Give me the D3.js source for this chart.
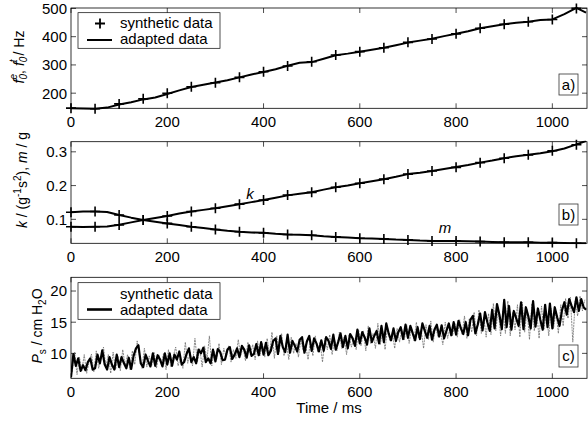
<!DOCTYPE html>
<html>
<head>
<meta charset="utf-8">
<script src="https://cdn.jsdelivr.net/npm/d3@7"></script>
<style>
  body { margin: 0; background: #fff; }
  svg { display: block; font-family: "Liberation Sans", Arial, sans-serif; }
</style>
</head>
<body>
<svg id="chart" width="588" height="423"></svg>
<script>
// ---- data ----
const timeTicks = [0, 200, 400, 600, 800, 1000];
const markerTimes = [0, 50, 100, 150, 200, 250, 300, 350, 400, 450, 500, 550, 600, 650, 700, 750, 800, 850, 900, 950, 1000, 1050];
const lineTimes = [0, 25, 50, 75, 100, 125, 150, 175, 200, 225, 250, 275, 300, 325, 350, 375, 400, 425, 450, 475, 500,
  525, 550, 575, 600, 625, 650, 675, 700, 725, 750, 775, 800, 825, 850, 875, 900, 925, 950, 975, 1000, 1025, 1050, 1070];

// panel a: f0 (Hz)
const f0Synthetic = [147, 145, 162, 180, 200, 223, 237, 256, 276, 296, 311, 335, 347, 361, 380, 392, 410, 430, 444, 453, 461, 500];
const f0Adapted = [147, 146, 145, 149, 160, 168, 178, 185, 197, 210, 222, 230, 238, 246, 256, 266, 275, 285, 297, 308, 310,
  322, 334, 340, 347, 354, 361, 370, 379, 386, 393, 402, 410, 419, 430, 437, 444, 449, 453, 459, 461, 480, 502, 485];
const f0Ticks = [200, 300, 400, 500];

// panel b: k, m
const kSynthetic = [0.078, 0.078, 0.083, 0.098, 0.110, 0.123, 0.133, 0.145, 0.157, 0.172, 0.180, 0.195, 0.207, 0.219, 0.234, 0.243, 0.254, 0.268, 0.281, 0.291, 0.303, 0.321];
const kAdapted = [0.078, 0.077, 0.078, 0.079, 0.084, 0.091, 0.098, 0.104, 0.110, 0.117, 0.123, 0.128, 0.133, 0.139, 0.145, 0.151, 0.157, 0.164, 0.171, 0.176, 0.180,
  0.188, 0.195, 0.200, 0.207, 0.213, 0.219, 0.226, 0.234, 0.238, 0.243, 0.249, 0.255, 0.261, 0.268, 0.274, 0.281, 0.287, 0.291, 0.296, 0.302, 0.310, 0.322, 0.332];
const mSynthetic = [0.121, 0.123, 0.113, 0.098, 0.088, 0.078, 0.070, 0.063, 0.060, 0.055, 0.053, 0.048, 0.044, 0.042, 0.039, 0.036, 0.036, 0.034, 0.032, 0.032, 0.031, 0.029];
const mAdapted = [0.121, 0.123, 0.123, 0.122, 0.113, 0.105, 0.098, 0.093, 0.088, 0.083, 0.078, 0.074, 0.070, 0.066, 0.063, 0.061, 0.060, 0.057, 0.055, 0.054, 0.053,
  0.050, 0.048, 0.046, 0.044, 0.043, 0.042, 0.040, 0.039, 0.037, 0.036, 0.036, 0.036, 0.035, 0.034, 0.033, 0.032, 0.032, 0.032, 0.031, 0.031, 0.030, 0.029, 0.029];
const kmTicks = [0.1, 0.2, 0.3];

// panel c: subglottal pressure (cm H2O), sampled every 5 ms
const psStep = 5;
const psAdapted = [
  6.2, 9.9, 8.0, 9.2, 7.2, 8.1, 7.3, 8.6, 9.2, 7.4, 7.6, 9.8, 8.4, 10.5, 8.2, 7.4, 9.4, 8.2, 7.4, 9.8, 7.8,
  9.4, 8.4, 7.6, 9.3, 7.5, 9.6, 10.8, 11.3, 8.4, 7.8, 9.8, 8.8, 7.9, 10.0, 8.0, 9.7, 9.0, 7.9, 10.0, 8.2,
  10.0, 8.0, 9.8, 9.0, 10.3, 8.2, 8.6, 9.9, 10.8, 8.6, 9.4, 8.4, 10.6, 10.0, 10.9, 8.6, 9.2, 8.4, 10.6, 8.7,
  10.7, 10.2, 8.9, 9.0, 10.6, 11.0, 9.1, 9.8, 10.8, 9.4, 11.2, 10.6, 9.3, 11.3, 9.6, 9.9, 11.5, 9.7, 11.8, 9.8,
  11.7, 9.7, 10.4, 12.0, 12.4, 9.9, 12.8, 11.0, 10.2, 13.0, 10.1, 12.0, 11.2, 10.3, 12.2, 12.6, 10.1, 11.9, 12.8, 10.4,
  12.4, 11.6, 10.3, 12.1, 10.4, 12.6, 12.0, 10.7, 13.0, 10.6, 11.8, 13.2, 11.0, 12.8, 10.8, 13.1, 12.4, 11.2, 13.8, 11.6,
  13.4, 12.6, 11.4, 14.0, 11.8, 12.8, 13.6, 11.6, 14.4, 11.8, 14.8, 13.2, 12.1, 14.0, 12.0, 13.4, 14.2, 12.3, 14.6, 12.5,
  14.4, 13.2, 12.1, 14.2, 12.3, 14.8, 13.6, 12.5, 14.4, 12.2, 13.8, 14.6, 12.7, 14.5, 12.4, 13.6, 14.8, 12.9, 15.0, 13.0,
  15.2, 14.0, 13.1, 15.0, 12.9, 15.4, 16.0, 13.2, 14.6, 16.4, 13.7, 16.6, 15.0, 13.6, 17.0, 14.0, 17.9, 16.2, 13.9, 18.6,
  14.2, 17.6, 13.8, 16.8, 15.6, 14.4, 18.2, 13.9, 17.4, 16.0, 14.0, 18.4, 14.3, 17.2, 15.4, 13.8, 17.8, 14.2, 18.0, 14.0,
  17.4, 15.8, 14.4, 16.9, 18.2, 16.2, 18.7, 17.6, 16.6, 19.0, 16.8, 18.7, 17.4, 17.0
];
const psSynthetic = [
  7.0, 10.2, 6.6, 9.4, 7.2, 9.8, 6.8, 8.6, 9.9, 7.0, 10.4, 7.6, 9.2, 11.0, 7.8, 9.8, 6.8, 10.2, 7.4, 9.6,
  7.2, 10.6, 8.0, 9.8, 7.4, 10.4, 8.2, 12.0, 9.6, 7.6, 10.8, 7.8, 9.6, 8.0, 10.2, 7.6, 9.8, 8.4, 10.0, 7.4,
  10.6, 7.8, 9.6, 11.0, 8.0, 9.4, 7.6, 11.8, 8.4, 10.2, 8.0, 12.4, 8.6, 10.8, 7.8, 11.2, 9.0, 12.8, 8.0, 10.4,
  9.0, 11.6, 8.2, 10.8, 9.4, 11.2, 8.6, 10.6, 9.2, 12.2, 9.6, 11.0, 8.8, 11.8, 9.8, 11.4, 9.0, 12.0, 9.6, 11.6,
  9.4, 12.4, 9.8, 13.4, 9.2, 12.8, 10.2, 13.2, 9.6, 11.8, 9.0, 12.6, 10.0, 11.6, 9.4, 12.2, 10.4, 11.4, 9.0, 12.0,
  9.6, 12.8, 10.2, 11.8, 8.6, 12.4, 10.6, 13.0, 9.8, 12.2, 10.4, 13.4, 10.8, 12.6, 9.8, 13.0, 11.0, 12.4, 10.6, 13.8,
  11.2, 13.6, 10.4, 14.4, 11.6, 13.2, 10.8, 14.8, 11.4, 13.6, 10.6, 14.2, 12.0, 13.4, 10.8, 14.0, 11.8, 13.8, 12.2, 14.6,
  11.6, 14.2, 12.0, 15.0, 12.4, 13.8, 10.8, 14.6, 12.2, 15.2, 11.8, 14.4, 12.6, 13.6, 11.4, 15.0, 12.4, 14.2, 12.8, 14.8,
  12.6, 15.4, 13.0, 16.0, 12.4, 15.6, 13.4, 16.6, 12.8, 17.0, 13.2, 15.8, 12.6, 16.4, 13.0, 18.0, 13.6, 17.2, 12.8, 16.8,
  13.2, 18.4, 12.8, 16.6, 13.8, 17.8, 12.6, 18.2, 13.4, 17.0, 12.2, 18.0, 13.6, 16.6, 12.4, 17.6, 13.8, 16.8, 12.8, 17.2,
  14.0, 16.8, 13.2, 17.8, 14.4, 18.8, 15.6, 19.0, 11.8, 18.4, 16.0, 19.2, 16.8, 18.6
];
const psTicks = [10, 15, 20];

// ---- layout ----
const svg = d3.select('#chart');
const FONT = 15;
const x = d3.scaleLinear().domain([0, 1072]).range([71, 587]);

const panels = [
  { id: 'a', y: d3.scaleLinear().domain([146.5, 501.5]).range([108.3, 8]), ticks: f0Ticks, fmt: d3.format('d'), label: 'a)', labelBox: [559, 74, 19, 21] },
  { id: 'b', y: d3.scaleLinear().domain([0.029, 0.330]).range([243.3, 141.7]), ticks: kmTicks, fmt: d3.format('.1f'), label: 'b)', labelBox: [559, 204, 19, 21] },
  { id: 'c', y: d3.scaleLinear().domain([6.0, 22.2]).range([378.3, 277.3]), ticks: psTicks, fmt: d3.format('d'), label: 'c)', labelBox: [559, 345, 19, 22] }
];

function drawFrame(p) {
  const [y0, y1] = p.y.range();
  const g = svg.append('g').attr('class', 'panel-' + p.id);
  const left = x.range()[0], right = x.range()[1];
  const tl = 5;

  // x ticks (bottom + top, inward)
  timeTicks.forEach(t => {
    g.append('line').attr('x1', x(t)).attr('x2', x(t)).attr('y1', y0).attr('y2', y0 - tl).attr('stroke', '#000').attr('stroke-width', 0.7);
    g.append('line').attr('x1', x(t)).attr('x2', x(t)).attr('y1', y1).attr('y2', y1 + tl).attr('stroke', '#000').attr('stroke-width', 0.7);
    g.append('text').attr('x', x(t)).attr('y', y0 + 19).attr('text-anchor', 'middle')
      .attr('font-size', FONT).text(t);
  });
  // y ticks (left + right, inward)
  p.ticks.forEach(v => {
    g.append('line').attr('x1', left).attr('x2', left + tl).attr('y1', p.y(v)).attr('y2', p.y(v)).attr('stroke', '#000').attr('stroke-width', 0.7);
    g.append('line').attr('x1', right).attr('x2', right - tl).attr('y1', p.y(v)).attr('y2', p.y(v)).attr('stroke', '#000').attr('stroke-width', 0.7);
    g.append('text').attr('x', left - 4).attr('y', p.y(v)).attr('dy', '0.36em').attr('text-anchor', 'end')
      .attr('font-size', FONT).text(p.fmt(v));
  });
  g.append('rect').attr('x', left).attr('y', y1).attr('width', right - left).attr('height', y0 - y1)
    .attr('fill', 'none').attr('stroke', '#000').attr('stroke-width', 0.8);

  svg.append('clipPath').attr('id', 'clip-' + p.id).append('rect')
    .attr('x', left).attr('y', y1 - 1).attr('width', right - left).attr('height', y0 - y1 + 2);
  return g;
}

function labelBox(p) {
  const [bx, by, bw, bh] = p.labelBox;
  svg.append('rect').attr('x', bx).attr('y', by).attr('width', bw).attr('height', bh)
    .attr('fill', '#fff').attr('stroke', '#333').attr('stroke-width', 0.8);
  svg.append('text').attr('x', bx + bw / 2).attr('y', by + bh / 2).attr('dy', '0.36em')
    .attr('text-anchor', 'middle').attr('font-size', FONT).text(p.label);
}

function plusMarkers(p, times, values) {
  svg.append('g').selectAll('path').data(times).join('path')
    .attr('d', (t, i) => `M${x(t) - 5},${p.y(values[i])}h10M${x(t)},${p.y(values[i]) - 5}v10`)
    .attr('stroke', '#000').attr('stroke-width', 1.6).attr('fill', 'none');
}

function curve(p, times, values, width, color, clip) {
  const line = d3.line().x((d, i) => x(times[i])).y(d => p.y(d));
  const path = svg.append('path').datum(values).attr('d', line)
    .attr('fill', 'none').attr('stroke', color).attr('stroke-width', width).attr('stroke-linejoin', 'round');
  if (clip) path.attr('clip-path', `url(#clip-${p.id})`);
  return path;
}

function legend(box, items) {
  const [bx, by, bw, bh] = box;
  svg.append('rect').attr('x', bx).attr('y', by).attr('width', bw).attr('height', bh)
    .attr('fill', '#fff').attr('stroke', '#000').attr('stroke-width', 0.7);
  items.forEach(it => {
    if (it.kind === 'plus') {
      svg.append('path').attr('d', `M${it.cx - 5},${it.cy}h10M${it.cx},${it.cy - 5}v10`)
        .attr('stroke', '#000').attr('stroke-width', 1.8);
    } else if (it.kind === 'line') {
      svg.append('line').attr('x1', 87).attr('x2', 112).attr('y1', it.cy).attr('y2', it.cy)
        .attr('stroke', '#000').attr('stroke-width', it.w);
    }
    svg.append('text').attr('x', 120).attr('y', it.ty).attr('font-size', FONT).text(it.text);
  });
}

// ---- panel a ----
const pa = panels[0];
drawFrame(pa);
curve(pa, lineTimes, f0Adapted, 2, '#000', false);
plusMarkers(pa, markerTimes, f0Synthetic);
legend([78, 12.7, 142, 35.6], [
  { kind: 'plus', cx: 100, cy: 23.5, ty: 28, text: 'synthetic data' },
  { kind: 'line', cy: 40, w: 2, ty: 44, text: 'adapted data' }
]);
labelBox(pa);

// ---- panel b ----
const pb = panels[1];
drawFrame(pb);
curve(pb, lineTimes, kAdapted, 2, '#000', true);
curve(pb, lineTimes, mAdapted, 2, '#000', true);
plusMarkers(pb, markerTimes, kSynthetic);
plusMarkers(pb, markerTimes, mSynthetic);
svg.append('text').attr('x', 250).attr('y', 199).attr('text-anchor', 'middle').attr('font-size', FONT)
  .attr('font-style', 'italic').text('k');
svg.append('text').attr('x', 445).attr('y', 233).attr('text-anchor', 'middle').attr('font-size', FONT)
  .attr('font-style', 'italic').text('m');
labelBox(pb);

// ---- panel c ----
const pc = panels[2];
drawFrame(pc);
const psSynthTimes = psSynthetic.map((d, i) => i * psStep + psStep / 2);
const psAdaptTimes = psAdapted.map((d, i) => i * psStep);
curve(pc, psSynthTimes, psSynthetic, 0.8, '#6e6e6e', true).attr('stroke-dasharray', '2,0.8');
curve(pc, psAdaptTimes, psAdapted, 2.2, '#000', true);
legend([78, 282.7, 142, 36.6], [
  { kind: 'none', ty: 299, text: 'synthetic data' },
  { kind: 'line', cy: 309.5, w: 2.6, ty: 315, text: 'adapted data' }
]);
labelBox(pc);

// ---- axis titles ----
svg.append('text').attr('x', 329).attr('y', 413).attr('text-anchor', 'middle').attr('font-size', FONT).text('Time / ms');

function ylabel(cx, cy, size, parts) {
  const t = svg.append('text').attr('transform', `translate(${cx},${cy}) rotate(-90)`)
    .attr('text-anchor', 'middle').attr('font-size', size);
  parts.forEach(pt => {
    const s = t.append('tspan').text(pt.t);
    if (pt.it) s.attr('font-style', 'italic');
    if (pt.fs) s.attr('font-size', pt.fs);
    if (pt.dy) s.attr('dy', pt.dy);
    if (pt.dx) s.attr('dx', pt.dx);
  });
}

ylabel(24, 57, 14, [
  { t: 'f', it: true },
  { t: '0', it: true, fs: 10, dy: 3 },
  { t: 'e', it: true, fs: 10, dy: -10, dx: -5.5 },
  { t: ',  ', dy: 7 },
  { t: 'f', it: true },
  { t: '0', it: true, fs: 10, dy: 3 },
  { t: 't', it: true, fs: 10, dy: -10, dx: -5.5 },
  { t: '  / Hz', dy: 7 }
]);

ylabel(27, 180, 14, [
  { t: 'k', it: true },
  { t: ' / (g' },
  { t: '-1', fs: 10, dy: -6 },
  { t: 's', dy: 6 },
  { t: '2', fs: 10, dy: -6 },
  { t: '),  ', dy: 6 },
  { t: 'm', it: true },
  { t: ' / g' }
]);

ylabel(42, 326, 14, [
  { t: 'P', it: true },
  { t: 's', fs: 10, dy: 4 },
  { t: ' / cm  H', dy: -4 },
  { t: '2', fs: 10, dy: 4 },
  { t: 'O', dy: -4 }
]);
</script>
</body>
</html>
